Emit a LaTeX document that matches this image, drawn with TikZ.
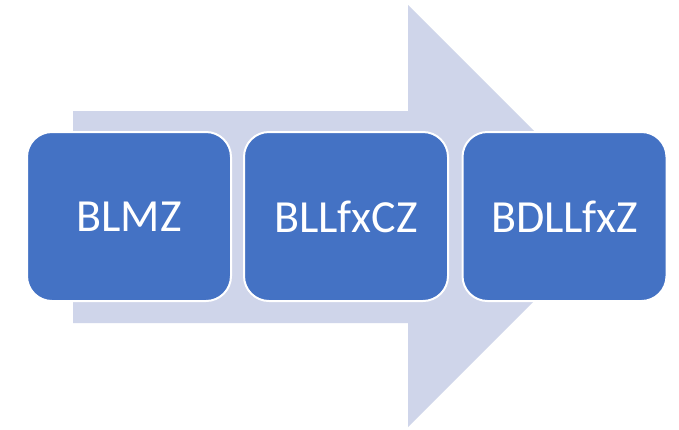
\documentclass[tikz,border=0pt]{standalone}
\usepackage{fontspec}
\setmainfont{Carlito}
\definecolor{arrowfill}{HTML}{CFD5EA}
\definecolor{boxfill}{HTML}{4472C4}
\begin{document}
\begin{tikzpicture}[x=1pt,y=-1pt,
  stagebox/.style={draw=white,line width=2pt,fill=boxfill,rounded corners=25pt,
    minimum width=204pt,minimum height=169pt,inner sep=0pt,
    text=white,font=\fontsize{46}{50}\selectfont}]
\useasboundingbox (0,0) rectangle (679,429);
\fill[white] (0,0) rectangle (679,429);
\fill[arrowfill] (73,111) -- (408,111) -- (408,5) -- (619,216) -- (408,427) -- (408,323) -- (73,323) -- cycle;
\node[stagebox] (b1) at (129,216.5) {BLMZ};
\node[stagebox] (b2) at (346,216.5) {BLLfxCZ};
\node[stagebox] (b3) at (564.5,216.5) {BDLLfxZ};
\end{tikzpicture}
\end{document}
